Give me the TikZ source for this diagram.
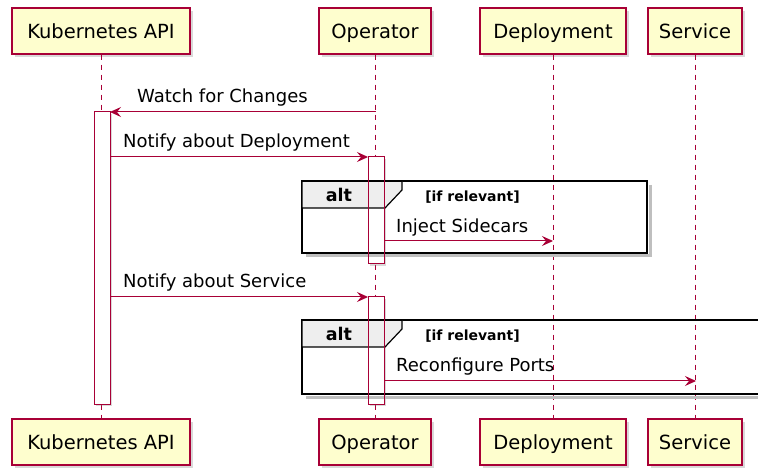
\documentclass[tikz,border=0pt]{standalone}
\usepackage{fontspec}
\setmainfont{DejaVu Sans}
\usetikzlibrary{arrows.meta, shadows}
\usepackage{xcolor}
\definecolor{umlred}{HTML}{A80036}
\definecolor{umlyellow}{HTML}{FEFECE}
\definecolor{altgray}{HTML}{EEEEEE}

\begin{document}
\begin{tikzpicture}[x=1pt, y=-1pt, >={Stealth[length=11pt,width=10pt,inset=4pt]}]
    \tikzstyle{participant}=[draw=umlred, fill=umlyellow, line width=1.2pt, minimum height=46pt, inner sep=0pt, text height=17pt, text depth=2pt, font=\fontsize{19.5}{23}\selectfont, drop shadow={opacity=0.3, shadow xshift=3pt, shadow yshift=-3pt}]
    \tikzstyle{lifeline}=[draw=umlred, line width=1pt, dash pattern=on 5pt off 5pt]
    \tikzstyle{activation}=[draw=umlred, fill=white, line width=1pt, minimum width=16pt, inner sep=0pt, outer sep=0pt, drop shadow={opacity=0.3, shadow xshift=2pt, shadow yshift=-2pt}]
    \tikzstyle{message}=[->, draw=umlred, line width=1pt]
    \tikzstyle{msglabel}=[anchor=base west, inner sep=0pt, font=\fontsize{18}{21}\selectfont]
    \tikzstyle{altframe}=[draw=black, line width=2.6pt]
    \tikzstyle{altshadow}=[draw=black!25, line width=3pt]
    \tikzstyle{alttab}=[draw=black, fill=altgray, line width=1.2pt]
    \tikzstyle{altlabel}=[anchor=base, inner sep=0pt, font=\bfseries\fontsize{17.5}{20}\selectfont]
    \tikzstyle{guardlabel}=[anchor=base, inner sep=0pt, font=\bfseries\fontsize{14}{16}\selectfont]

    \useasboundingbox (0,0) rectangle (758,470);
    \clip (0,0) rectangle (758,470);

	\foreach \name/\lbl/\px/\w in {K/Kubernetes API/101/178, O/Operator/375/112, D/Deployment/553/146, S/Service/695/94}{
		\node[participant, minimum width=\w pt] (\name-top) at (\px,31) {\lbl};
		\node[participant, minimum width=\w pt] (\name-bot) at (\px,442) {\lbl};
		\path[lifeline] (\name-top) -- (\name-bot);
	}

	\node[activation, minimum height=292pt] (KA) at (102,258) {};
	\node[activation, minimum height=107pt] (OA1) at (376,210.5) {};
	\node[activation, minimum height=107pt] (OA2) at (376,350.5) {};

	\foreach \ya/\yb/\xr in {181/253/647, 320/394/790}{
		\draw[altshadow] (\xr+3,\ya+4) -- (\xr+3,\yb+3) -- (306,\yb+3);
		\draw[altframe] (302,\ya) rectangle (\xr,\yb);
		\draw[alttab] (302,\ya) -- (402,\ya) -- (402,\ya+9) -- (385,\ya+27) -- (302,\ya+27) -- cycle;
		\draw[altframe] (302,\ya) -- (402,\ya);
		\node[altlabel] at (339,\ya+21) {alt};
		\node[guardlabel] at (472.5,\ya+21) {[if relevant]};
	}
	\foreach \a in {OA1,OA2}
		\draw[umlred, line width=1pt] (\a.south west) rectangle (\a.north east);

	\coordinate (watch) at (376,112);
	\draw[message] (watch) -- (KA.north east);
	\node[msglabel] (watch-l) at (137,103) {Watch for Changes};

	\draw[message] (KA.east |- OA1.north) -- (OA1.north west);
	\node[msglabel] (deploy-l) at (123,148) {Notify about Deployment};

	\coordinate (inject) at (553,241);
	\draw[message] (OA1.east |- inject) -- (inject);
	\node[msglabel] (inject-l) at (396,232.5) {Inject Sidecars};

	\draw[message] (KA.east |- OA2.north) -- (OA2.north west);
	\node[msglabel] (service-l) at (123,288) {Notify about Service};

	\coordinate (reconf) at (696,381);
	\draw[message] (OA2.east |- reconf) -- (reconf);
	\node[msglabel] (reconf-l) at (396,372) {Reconfigure Ports};
\end{tikzpicture}
\end{document}
